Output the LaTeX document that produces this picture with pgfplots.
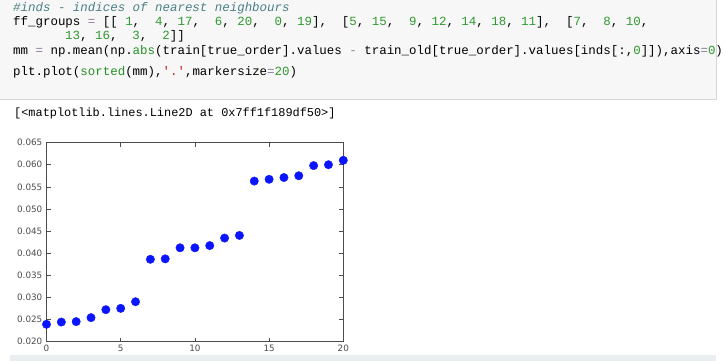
\documentclass[border=0pt]{standalone}
\usepackage{fontspec}
\setmainfont{DejaVu Sans}
\setmonofont{Liberation Mono}
\usepackage{pgfplots}
\pgfplotsset{compat=1.18}

\definecolor{cellbg}{HTML}{F7F7F7}
\definecolor{cellborder}{HTML}{D6D6D6}
\definecolor{cmt}{HTML}{4A7F86}
\definecolor{num}{HTML}{2E9A2E}
\definecolor{bltin}{HTML}{249124}
\definecolor{oper}{HTML}{8F7A9E}
\definecolor{strg}{HTML}{BA2121}
\definecolor{strip}{HTML}{E9EEF1}
\definecolor{dotblue}{HTML}{0A14FF}

% syntax colouring helpers for the code cell
\newcommand\N[1]{\textcolor{num}{#1}}
\newcommand\Op[1]{\textcolor{oper}{#1}}
\newcommand\B[1]{\textcolor{bltin}{#1}}
\newcommand\Str[1]{\textcolor{strg}{#1}}

% sorted mean absolute differences
\pgfplotstableread{
idx mm
0  0.0239
1  0.0244
2  0.0245
3  0.0254
4  0.0272
5  0.0275
6  0.0290
7  0.0386
8  0.0387
9  0.0412
10 0.0412
11 0.0417
12 0.0434
13 0.0440
14 0.0563
15 0.0567
16 0.0571
17 0.0575
18 0.0598
19 0.0600
20 0.0610
}\mmtable

\begin{document}
\begin{tikzpicture}
\path[use as bounding box] (0pt,0pt) rectangle (726pt,-360pt);
\clip (0pt,0pt) rectangle (726pt,-360pt);
\fill[white] (0pt,0pt) rectangle (726pt,-360pt);

% code cell
\filldraw[fill=cellbg, draw=cellborder, line width=0.8pt] (-2pt,2pt) rectangle (716pt,-99pt);

\tikzset{codeline/.style={anchor=mid west, inner sep=0pt, font=\fontsize{12.45}{13}\selectfont\ttfamily}}
\node[codeline] at (13pt,-8.5pt) {\textcolor{cmt}{\itshape\#inds~-~indices~of~nearest~neighbours}};
\node[codeline] at (13pt,-22.5pt) {ff\_groups~\Op{=}~[[~\N{1},~~\N{4},~\N{17},~~\N{6},~\N{20},~~\N{0},~\N{19}],~~[\N{5},~\N{15},~~\N{9},~\N{12},~\N{14},~\N{18},~\N{11}],~~[\N{7},~~\N{8},~\N{10},};
\node[codeline] at (65pt,-37pt) {\N{13},~\N{16},~~\N{3},~~\N{2}]]};
\node[codeline] at (13pt,-51.5pt) {mm~\Op{=}~np.mean(np.\B{abs}(train[true\_order].values~\Op{-}~train\_old[true\_order].values[inds[:,\N{0}]]),axis\Op{=}\N{0})};
\node[codeline] at (13pt,-73pt) {plt.plot(\B{sorted}(mm),\Str{\textquotesingle.\textquotesingle},markersize\Op{=}\N{20})};

% cell output
\node[anchor=mid west, inner sep=0pt, font=\fontsize{11.9}{13}\selectfont\ttfamily] at (14pt,-114pt) {[<matplotlib.lines.Line2D~at~0x7ff1f189df50>]};

% bottom strip of the next cell
\fill[strip] (10pt,-355pt) rectangle (716pt,-362pt);

\begin{axis}[
  at={(46.5pt,-341.5pt)}, anchor=south west,
  scale only axis, width=296.8pt, height=198.9pt,
  xmin=0, xmax=20, ymin=0.020, ymax=0.065,
  xtick={0,5,10,15,20},
  ytick={0.020,0.025,0.030,0.035,0.040,0.045,0.050,0.055,0.060,0.065},
  scaled y ticks=false,
  tick align=inside, major tick length=4pt,
  every tick/.style={black!70, line width=0.6pt},
  axis line style={black!70, line width=0.9pt},
  /pgf/number format/assume math mode=true,
  y tick label style={/pgf/number format/fixed, /pgf/number format/fixed zerofill, /pgf/number format/precision=3, inner sep=0pt, xshift=-4pt},
  x tick label style={inner sep=0pt, yshift=-3pt},
  tick label style={font=\fontsize{8.8}{10}\selectfont, text=black!70},
]
\addplot[only marks, mark=*, mark size=4.2pt, color=dotblue, mark options={draw=none, fill=dotblue}] table[x=idx, y=mm] {\mmtable};
\end{axis}
\end{tikzpicture}
\end{document}
